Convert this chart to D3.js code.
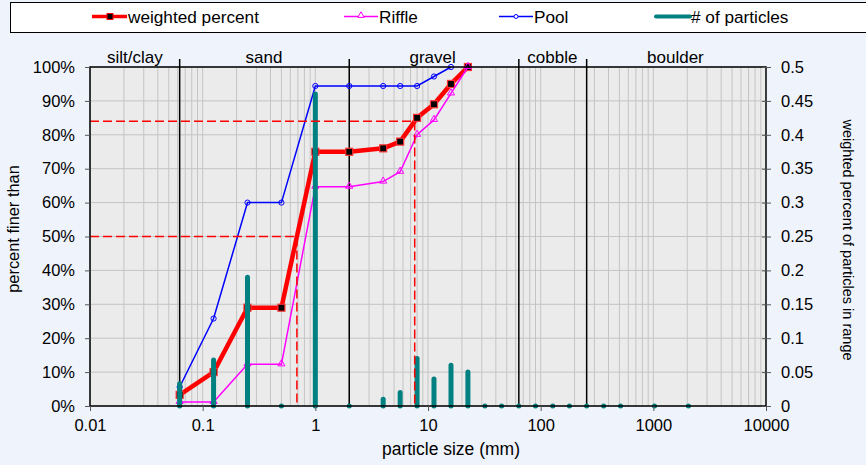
<!DOCTYPE html>
<html><head><meta charset="utf-8">
<script src="https://cdn.jsdelivr.net/npm/d3@7"></script>
<style>body{margin:0;background:#eff3fb;} svg{display:block;font-family:"Liberation Sans",Arial,sans-serif;}</style>
</head><body><svg id="c" width="866" height="465"></svg>
<script>
// ---- data ----
const sizes = [0.0625, 0.125, 0.25, 0.5, 1, 2, 4, 5.66, 8, 11.3, 16, 22.6];
const weighted = [3.3, 10, 29, 29, 75, 75, 76, 78, 85, 89, 95, 100];
const riffle = [1.2, 1.2, 12.3, 12.3, 64.7, 64.7, 66.2, 69.1, 80, 84.4, 92.2, 100];
const pool = [5.6, 25.8, 60, 60, 94.4, 94.4, 94.4, 94.4, 94.4, 97.2, 100, null];
const binSizes = [0.0625, 0.125, 0.25, 0.5, 1, 2, 4, 5.66, 8, 11.3, 16, 22.6, 32, 45, 64, 90, 128, 180, 256, 362, 512, 1024, 2048];
const particles = [0.033, 0.068, 0.19, 0, 0.46, 0, 0.01, 0.02, 0.07, 0.04, 0.06, 0.05, 0, 0, 0, 0, 0, 0, 0, 0, 0, 0, 0];
const classBounds = [0.0625, 2, 64, 256];
const classNames = ["silt/clay", "sand", "gravel", "cobble", "boulder"];
const classCenters = [0.025, 0.35, 11, 127, 1570];
const D50 = 0.686, D84 = 7.62;
const xTicks = [0.01, 0.1, 1, 10, 100, 1000, 10000];
const yTicks = [0, 10, 20, 30, 40, 50, 60, 70, 80, 90, 100];
const y2Ticks = [0, 0.05, 0.1, 0.15, 0.2, 0.25, 0.3, 0.35, 0.4, 0.45, 0.5];
const legendItems = ["weighted percent", "Riffle", "Pool", "# of particles"];

// ---- layout ----
const L = 90, R = 766, T = 67, B = 406;
const svg = d3.select("#c");
const x = d3.scaleLog().domain([0.01, 10000]).range([L, R]);
const y = d3.scaleLinear().domain([0, 100]).range([B, T]);
const y2 = d3.scaleLinear().domain([0, 0.5]).range([B, T]);

svg.append("rect").attr("width", 866).attr("height", 465).attr("fill", "#eff3fb");

// legend
svg.append("rect").attr("x", 10.5).attr("y", 2.5).attr("width", 880).attr("height", 30)
  .attr("fill", "#fff").attr("stroke", "#000").attr("stroke-width", 1);
const lg = svg.append("g");
const ly = 16.5;
const lx = [92, 344, 499, 656];
lg.append("line").attr("x1", lx[0]).attr("x2", lx[0] + 35).attr("y1", ly).attr("y2", ly).attr("stroke", "#f00").attr("stroke-width", 3.5);
lg.append("rect").attr("x", lx[0] + 15).attr("y", ly - 3).attr("width", 6).attr("height", 6).attr("fill", "#000").attr("stroke", "#f00").attr("stroke-width", 1);
lg.append("line").attr("x1", lx[1]).attr("x2", lx[1] + 34).attr("y1", ly).attr("y2", ly).attr("stroke", "#f0f").attr("stroke-width", 1.5);
lg.append("path").attr("d", d3.symbol(d3.symbolTriangle, 18)()).attr("transform", `translate(${lx[1] + 17},${ly - 1})`).attr("fill", "#fff").attr("stroke", "#f0f").attr("stroke-width", 1);
lg.append("line").attr("x1", lx[2]).attr("x2", lx[2] + 34).attr("y1", ly).attr("y2", ly).attr("stroke", "#00f").attr("stroke-width", 1.5);
lg.append("circle").attr("cx", lx[2] + 17).attr("cy", ly).attr("r", 2).attr("fill", "#fff").attr("stroke", "#00f").attr("stroke-width", 1);
lg.append("line").attr("x1", lx[3]).attr("x2", lx[3] + 34).attr("y1", ly).attr("y2", ly).attr("stroke", "#008080").attr("stroke-width", 4).attr("stroke-linecap", "round");
const ltx = [128, 379, 534, 691];
legendItems.forEach((t, i) => lg.append("text").attr("x", ltx[i]).attr("y", ly + 6).attr("font-size", 17.2).text(t));

// plot background
svg.append("rect").attr("x", L).attr("y", T).attr("width", R - L).attr("height", B - T).attr("fill", "#ebebeb");

// grid
const minor = [];
for (let e = -2; e < 4; e++) for (let k = 1; k < 10; k++) minor.push(k * Math.pow(10, e));
svg.append("g").selectAll("line").data(minor).join("line")
  .attr("x1", d => x(d)).attr("x2", d => x(d)).attr("y1", T).attr("y2", B)
  .attr("stroke", "#c4c4c4").attr("stroke-width", 1);
svg.append("g").selectAll("line").data(yTicks).join("line")
  .attr("x1", L).attr("x2", R).attr("y1", d => y(d)).attr("y2", d => y(d))
  .attr("stroke", "#c4c4c4").attr("stroke-width", 1);

// class boundaries
svg.append("g").selectAll("line").data(classBounds).join("line")
  .attr("x1", d => x(d)).attr("x2", d => x(d)).attr("y1", T - 8).attr("y2", B)
  .attr("stroke", "#000").attr("stroke-width", 1.5);
svg.append("g").selectAll("text").data(classNames).join("text")
  .attr("x", (d, i) => x(classCenters[i])).attr("y", 63).attr("text-anchor", "middle")
  .attr("font-size", 17).text(d => d);

// series
const pts = arr => sizes.map((s, i) => [s, arr[i]]).filter(d => d[1] != null);
const line = d3.line().x(d => x(d[0])).y(d => y(d[1]));

svg.append("path").attr("d", line(pts(weighted))).attr("fill", "none").attr("stroke", "#f00").attr("stroke-width", 4.5).attr("stroke-linejoin", "round");
svg.append("g").selectAll("rect").data(pts(weighted)).join("rect")
  .attr("x", d => x(d[0]) - 3.5).attr("y", d => y(d[1]) - 3.5).attr("width", 7).attr("height", 7)
  .attr("fill", "#000").attr("stroke", "#f33").attr("stroke-width", 1.2);

svg.append("path").attr("d", line(pts(riffle))).attr("fill", "none").attr("stroke", "#f0f").attr("stroke-width", 1.5);
svg.append("g").selectAll("path").data(pts(riffle)).join("path")
  .attr("d", d3.symbol(d3.symbolTriangle, 22)())
  .attr("transform", d => `translate(${x(d[0])},${y(d[1]) - 0.5})`)
  .attr("fill", "none").attr("stroke", "#f0f").attr("stroke-width", 1);

svg.append("path").attr("d", line(pts(pool))).attr("fill", "none").attr("stroke", "#00f").attr("stroke-width", 1.5);
svg.append("g").selectAll("circle").data(pts(pool)).join("circle")
  .attr("cx", d => x(d[0])).attr("cy", d => y(d[1])).attr("r", 2.6)
  .attr("fill", "none").attr("stroke", "#00f").attr("stroke-width", 1);

// particle bars
svg.append("g").selectAll("line").data(binSizes.map((s, i) => [s, particles[i]])).join("line")
  .attr("x1", d => x(d[0])).attr("x2", d => x(d[0])).attr("y1", y2(0)).attr("y2", d => y2(d[1]))
  .attr("stroke", "#008080").attr("stroke-width", 5).attr("stroke-linecap", "round");

// D50 / D84 dashed
const dash = (dv, pv) => svg.append("path")
  .attr("d", `M${x(0.01)},${y(pv)}H${x(dv)}V${y(0)}`)
  .attr("fill", "none").attr("stroke", "#f00").attr("stroke-width", 1.5).attr("stroke-dasharray", "9,4");
dash(D50, 50);
dash(D84, 84);

// frame
svg.append("rect").attr("x", L).attr("y", T).attr("width", R - L).attr("height", B - T)
  .attr("fill", "none").attr("stroke", "#000").attr("stroke-width", 1.5);

// axes
const ax = svg.append("g").attr("transform", `translate(0,${B})`)
  .call(d3.axisBottom(x).tickValues(xTicks).tickFormat(d => String(d)).tickSize(5).tickPadding(8));
const ay = svg.append("g").attr("transform", `translate(${L},0)`)
  .call(d3.axisLeft(y).tickValues(yTicks).tickFormat(d => d + "%").tickSize(5).tickPadding(10));
const ay2 = svg.append("g").attr("transform", `translate(${R},0)`)
  .call(d3.axisRight(y2).tickValues(y2Ticks).tickFormat(d => String(d)).tickSize(5).tickPadding(10));
ay2.selectAll(".tick line").attr("x1", -4);
[ax, ay, ay2].forEach(g => {
  g.select(".domain").remove();
  g.selectAll(".tick line").attr("stroke", "#555");
  g.selectAll("text").attr("font-size", 16.5).attr("fill", "#000").attr("font-family", '"Liberation Sans",Arial,sans-serif');
});

// titles
svg.append("text").attr("x", 451).attr("y", 455).attr("text-anchor", "middle").attr("font-size", 17.5).text("particle size (mm)");
svg.append("text").attr("transform", `translate(19,229) rotate(-90)`).attr("text-anchor", "middle").attr("font-size", 16.4).text("percent finer than");
svg.append("text").attr("transform", `translate(843,240) rotate(90)`).attr("text-anchor", "middle").attr("font-size", 14.5).text("weighted percent of particles in range");
</script></body></html>
